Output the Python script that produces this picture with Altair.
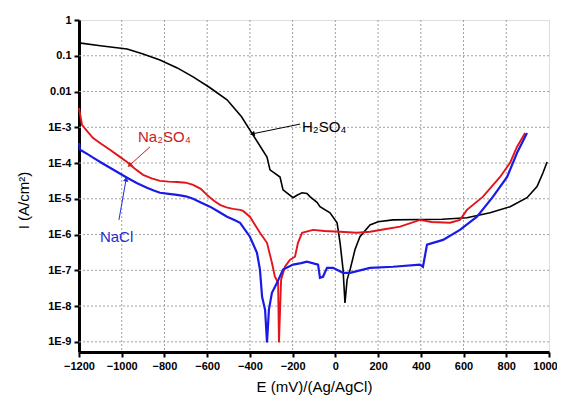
import altair as alt
import pandas as pd

# ---- data (E in mV vs Ag/AgCl, log10 of current density in A/cm2) ----
h2so4_E = [-1200, -1100, -975, -900, -821, -740, -666, -590, -507, -440, -385, -320, -306, -259, -245,
           -198, -180, -156, -133, -119, -86, -72, -25, 8, 22, 36, 45, 55, 69, 92, 115, 162, 200, 270,
           400, 500, 616, 724, 818, 897, 944, 972, 991]
h2so4_logI = [-0.64, -0.72, -0.81, -0.95, -1.12, -1.34, -1.59, -1.88, -2.23, -2.70, -3.22, -3.83, -4.19, -4.39, -4.75,
              -4.97, -4.90, -4.83, -4.85, -4.94, -5.10, -5.22, -5.39, -5.67, -6.23, -6.98, -7.91, -7.26, -6.98, -6.42, -6.06, -5.73, -5.64, -5.59,
              -5.58, -5.57, -5.53, -5.39, -5.22, -4.97, -4.66, -4.27, -3.97]

na2so4_E = [-1200, -1186, -1160, -1134, -1095, -1055, -1015, -975, -940, -900, -860, -821, -780, -741, -700, -666, -630,
            -601, -570, -540, -510, -479, -446, -432, -400, -353, -320, -297, -283, -268, -264, -254, -236, -212,
            -189, -175, -156, -105, -50, 22, 100, 162, 230, 303, 396, 450, 537, 583, 616, 691, 771, 818, 850, 888]
na2so4_logI = [-2.46, -2.93, -3.12, -3.30, -3.47, -3.63, -3.80, -3.97, -4.15, -4.33, -4.43, -4.50, -4.52, -4.53, -4.55, -4.61, -4.72,
               -4.89, -5.05, -5.17, -5.24, -5.28, -5.31, -5.34, -5.50, -5.95, -6.23, -6.79, -7.18, -7.35, -9.02, -7.26, -6.90, -6.70,
               -6.62, -6.23, -5.95, -5.87, -5.90, -5.92, -5.95, -5.92, -5.85, -5.78, -5.59, -5.65, -5.67, -5.59, -5.31, -4.94, -4.39, -3.99, -3.55, -3.16]

nacl_E = [-1200, -1195, -1160, -1134, -1095, -1055, -1015, -975, -930, -882, -850, -821, -780, -741, -700, -666, -630, -587,
          -550, -507, -470, -446, -400, -367, -353, -343, -329, -320, -311, -297, -273, -245, -198, -160, -133, -81, -72,
          -58, -39, -11, 36, 69, 162, 270, 396, 410, 429, 504, 583, 663, 738, 804, 850, 897]
nacl_logI = [-3.44, -3.63, -3.75, -3.85, -3.99, -4.13, -4.27, -4.41, -4.56, -4.69, -4.77, -4.83, -4.86, -4.89, -4.93, -5.00, -5.10, -5.22,
             -5.35, -5.50, -5.60, -5.67, -6.06, -6.51, -6.98, -7.74, -8.10, -9.02, -8.10, -7.63, -7.35, -6.98, -6.84, -6.80, -6.76, -6.84, -7.21,
             -7.18, -6.93, -6.93, -7.07, -7.07, -6.93, -6.90, -6.84, -6.90, -6.28, -6.15, -5.87, -5.50, -4.94, -4.39, -3.72, -3.16]

series_names = ["H₂SO₄", "Na₂SO₄", "NaCl"]
series_colors = ["#000000", "#e3141b", "#1a1ae6"]
series_widths = [1.6, 2.2, 3.0]

x_ticks = [-1200, -1100, -1000, -900, -800, -700, -600, -500, -400, -300, -200, -100,
           0, 100, 200, 300, 400, 500, 600, 700, 800, 900, 1000]
y_ticks = [1, 0.1, 0.01, 1e-3, 1e-4, 1e-5, 1e-6, 1e-7, 1e-8, 1e-9]
x_grid = [-1000, -800, -600, -400, -200, 0, 200, 400, 600, 800]
y_grid = [0.1, 0.01, 1e-3, 1e-4, 1e-5, 1e-6, 1e-7, 1e-8, 1e-9]

# annotations: label text, text position, arrow tail, arrow tip (E, log10 I)
ann_text = ["H₂SO₄", "Na₂SO₄", "NaCl"]
ann_color = ["#000000", "#c81a1e", "#1f2fd0"]
ann_tx = [-156, -924, -1102]
ann_ty = [-2.99, -3.27, -6.06]
ann_tail_x = [-165, -868, -1013]
ann_tail_y = [-2.91, -3.55, -5.59]
ann_tip_x = [-385, -961, -980]
ann_tip_y = [-3.18, -4.05, -4.47]
ann_angle = [258, 228, 10]

# ---- build tables ----
rows = []
for name, E, L in [(series_names[0], h2so4_E, h2so4_logI),
                   (series_names[1], na2so4_E, na2so4_logI),
                   (series_names[2], nacl_E, nacl_logI)]:
    for i, (e, l) in enumerate(zip(E, L)):
        rows.append({"series": name, "E": e, "I": 10 ** l, "idx": i})
df = pd.DataFrame(rows)

ann = pd.DataFrame({
    "text": ann_text, "color": ann_color,
    "tx": ann_tx, "ty": [10 ** v for v in ann_ty],
    "x1": ann_tail_x, "y1": [10 ** v for v in ann_tail_y],
    "x2": ann_tip_x, "y2": [10 ** v for v in ann_tip_y],
    "angle": ann_angle,
})
xg = pd.DataFrame({"gx": x_grid, "y_top": 1.0, "y_bot": 5.2e-10})
yg = pd.DataFrame({"gy": y_grid, "x_left": -1200, "x_right": 1000})

FONT = "Liberation Sans"
GRID = "#a0a0a0"

xscale = alt.Scale(domain=[-1200, 1000], nice=False, zero=False)
yscale = alt.Scale(type="log", domain=[5.2e-10, 1], nice=False)

xaxis = alt.Axis(
    values=x_ticks, title="E (mV)/(Ag/AgCl)",
    labelExpr="datum.value % 200 == 0 ? datum.label : ''",
    format="d", labelOverlap=False, labelFlush=False,
    labelOffset={"condition": {"test": "datum.value == 1000", "value": -4}, "value": 0},
    grid=False,
    domainColor="black", domainWidth=3,
    tickColor="black", tickWidth=2, tickSize=5,
    labelFont=FONT, labelFontSize=11, labelColor="black", labelPadding=3,
    labelFontWeight="bold",
    titleFont=FONT, titleFontSize=15, titleFontWeight="normal", titleColor="black", titlePadding=8,
)
yaxis = alt.Axis(
    values=y_ticks, title="I (A/cm²)",
    labelExpr="datum.value >= 0.99 ? '1' : datum.value >= 0.099 ? '0.1' : datum.value >= 0.0099 ? '0.01' : '1E-' + round(-log(datum.value) / LN10)",
    labelOverlap=False, labelFlush=False,
    grid=False,
    domainColor="black", domainWidth=3,
    tickColor="black", tickWidth=2, tickSize=5,
    labelFont=FONT, labelFontSize=11, labelColor="black", labelPadding=3,
    labelFontWeight="bold",
    titleFont=FONT, titleFontSize=15, titleFontWeight="normal", titleColor="black", titlePadding=16,
    titleY=180,
)

vgrid = alt.Chart(xg).mark_rule(color=GRID, strokeWidth=1, strokeDash=[2, 2]).encode(
    x=alt.X("gx:Q", scale=xscale, axis=xaxis),
    y=alt.Y("y_top:Q", scale=yscale, axis=yaxis),
    y2="y_bot:Q",
)
hgrid = alt.Chart(yg).mark_rule(color=GRID, strokeWidth=1, strokeDash=[2, 2]).encode(
    y=alt.Y("gy:Q", scale=yscale, axis=yaxis),
    x=alt.X("x_left:Q", scale=xscale, axis=xaxis),
    x2="x_right:Q",
)

lines = alt.Chart(df).mark_line(interpolate="linear").encode(
    x=alt.X("E:Q", scale=xscale, axis=xaxis),
    y=alt.Y("I:Q", scale=yscale, axis=yaxis),
    detail="series:N",
    order="idx:Q",
    color=alt.Color("series:N", scale=alt.Scale(domain=series_names, range=series_colors), legend=None),
    strokeWidth=alt.StrokeWidth("series:N", scale=alt.Scale(domain=series_names, range=series_widths), legend=None),
)

arrows = alt.Chart(ann).mark_rule(strokeWidth=1).encode(
    x="x1:Q", y="y1:Q", x2="x2:Q", y2="y2:Q",
    color=alt.Color("color:N", scale=None),
)
heads = alt.Chart(ann).mark_point(shape="triangle", filled=True, size=30, opacity=1).encode(
    x="x2:Q", y="y2:Q",
    angle=alt.Angle("angle:Q", scale=None),
    color=alt.Color("color:N", scale=None),
)
labels = alt.Chart(ann).mark_text(align="left", baseline="middle", font=FONT, fontSize=15).encode(
    x="tx:Q", y="ty:Q", text="text:N",
    color=alt.Color("color:N", scale=None),
)

chart = alt.layer(vgrid, hgrid, lines, arrows, heads, labels).properties(
    width=470, height=332,
    autosize=alt.AutoSizeParams(type="none"),
    padding={"left": 71, "top": 12, "right": 8, "bottom": 46},
).configure_view(stroke="black", strokeWidth=1.5).configure(background="white")

chart.save("out.html", embed_options={"renderer": "svg", "actions": False})
